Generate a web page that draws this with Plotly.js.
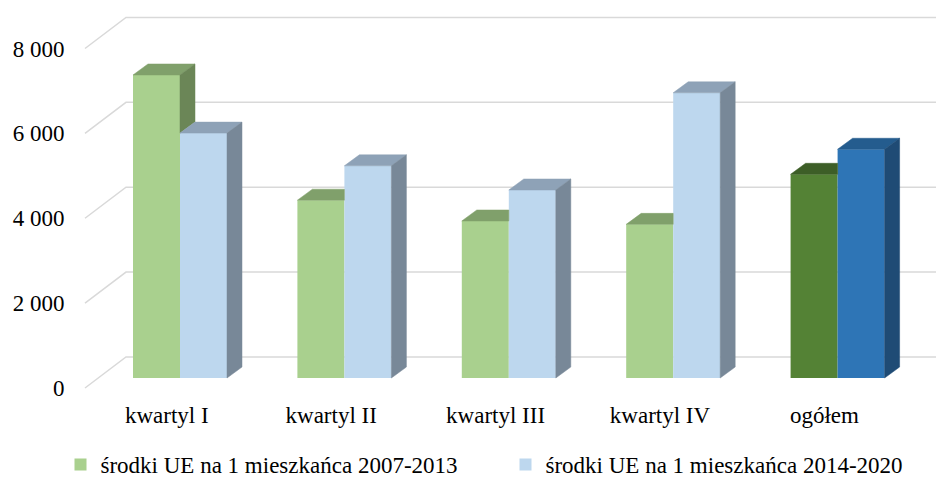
<!DOCTYPE html>
<html>
<head>
<meta charset="utf-8">
<script src="https://cdn.plot.ly/plotly-3.0.1.min.js"></script>
<style>
html,body{margin:0;padding:0;background:#fff;}
#chart{width:936px;height:480px;}
</style>
</head>
<body>
<div id="chart"></div>
<script>
// ---- data ----
const categories = ['kwartyl I', 'kwartyl II', 'kwartyl III', 'kwartyl IV', 'ogółem'];
const series2007 = [7140, 4190, 3700, 3620, 4800];
const series2014 = [5770, 5000, 4430, 6720, 5390];
const seriesNames = ['środki UE na 1 mieszkańca 2007-2013', 'środki UE na 1 mieszkańca 2014-2020'];
const yTickValues = [0, 2000, 4000, 6000, 8000];
const yTickLabels = ['0', '2 000', '4 000', '6 000', '8 000'];

// ---- geometry (pixels) ----
const plotL = 80, plotR = 936, plotT = 10, plotB = 392;
const catPx = 164.4, cat0Px = 180, yScale = 0.04244, zeroPx = 378;
const px2x = p => p / catPx;
const px2y = p => p / yScale;
const xRange = [px2x(plotL - cat0Px), px2x(plotR - cat0Px)];
const yRange = [px2y(zeroPx - plotB), px2y(zeroPx - plotT)];
const barW = px2x(47);
const dX = px2x(15), dY = px2y(11);          // bar depth
const frontY = px2y(-10), backY = px2y(21);  // wall offsets
const gridFrontX = px2x(85 - cat0Px), gridBackX = px2x(126 - cat0Px);

// ---- colours ----
const lastIdx = categories.length - 1;
const colG = {front: '#A9D08E', top: '#80A06B', side: '#6B8657'};
const colB = {front: '#BDD7EE', top: '#8EA2B7', side: '#788898'};
const colGT = {front: '#548235', top: '#3D5E27', side: '#35521F'};
const colBT = {front: '#2E75B6', top: '#245C8E', side: '#1F4B75'};
const pick = (i, normal, total) => (i === lastIdx ? total : normal);

const xIdx = categories.map((c, i) => i);

// ---- faces ----
const faces = []; // {pts, color}
categories.forEach((c, i) => {
  const vg = series2007[i], vb = series2014[i];
  const cg = pick(i, colG, colGT), cb = pick(i, colB, colBT);
  const gL = i - barW, gR = i, bL = i, bR = i + barW;
  if (vg >= vb) {
    faces.push({pts: [[gL, vg], [gL + dX, vg + dY], [gR + dX, vg + dY], [gR, vg]], color: cg.top});
    faces.push({pts: [[gR, vb], [gR + dX, vb + dY], [gR + dX, vg + dY], [gR, vg]], color: cg.side});
  } else {
    faces.push({pts: [[gL, vg], [gL + dX, vg + dY], [gR, vg + dY], [gR, vg]], color: cg.top});
  }
  faces.push({pts: [[bL, vb], [bL + dX, vb + dY], [bR + dX, vb + dY], [bR, vb]], color: cb.top});
  faces.push({pts: [[bR, 0], [bR + dX, dY], [bR + dX, vb + dY], [bR, vb]], color: cb.side});
});

const faceTraces = faces.map(f => ({
  type: 'scatter', mode: 'lines', fill: 'toself',
  x: f.pts.map(p => p[0]).concat([f.pts[0][0]]),
  y: f.pts.map(p => p[1]).concat([f.pts[0][1]]),
  fillcolor: f.color, line: {color: f.color, width: 0.5},
  hoverinfo: 'skip', showlegend: false
}));

const barG = {
  type: 'bar', name: seriesNames[0], x: xIdx, y: series2007,
  width: barW, offset: -barW,
  marker: {color: xIdx.map(i => pick(i, colG, colGT).front), line: {width: 0}},
  hoverinfo: 'skip'
};
const barB = {
  type: 'bar', name: seriesNames[1], x: xIdx, y: series2014,
  width: barW, offset: 0,
  marker: {color: xIdx.map(i => pick(i, colB, colBT).front), line: {width: 0}},
  hoverinfo: 'skip'
};

const shapes = yTickValues.map(v => ({
  type: 'path', xref: 'x', yref: 'y', layer: 'below',
  path: `M ${gridFrontX},${v + frontY} L ${gridBackX},${v + backY} L ${xRange[1]},${v + backY}`,
  line: {color: '#D9D9D9', width: 1.5}
}));

const font = {family: '"Liberation Serif", serif', size: 23, color: '#000'};

const layout = {
  width: 936, height: 480,
  margin: {l: plotL, r: 936 - plotR, t: plotT, b: 480 - plotB, pad: 0, autoexpand: false},
  paper_bgcolor: '#fff', plot_bgcolor: 'rgba(0,0,0,0)',
  font: font,
  showlegend: true,
  barmode: 'overlay',
  xaxis: {
    range: xRange, showgrid: false, zeroline: false, showline: false, automargin: false,
    tickmode: 'array', tickvals: xIdx.map(i => i + px2x(-13.2)), ticktext: categories,
    ticks: 'outside', ticklen: 2, tickcolor: 'rgba(0,0,0,0)', tickfont: font, fixedrange: true
  },
  yaxis: {
    range: yRange, showgrid: false, zeroline: false, showline: false, automargin: false,
    tickmode: 'array', tickvals: yTickValues.map(v => v + frontY), ticktext: yTickLabels,
    ticks: 'outside', ticklen: 10, tickcolor: 'rgba(0,0,0,0)', tickfont: font, fixedrange: true
  },
  legend: {
    orientation: 'h', x: (60.5 - plotL) / (plotR - plotL), xanchor: 'left',
    y: (plotB - 443) / (plotB - plotT), yanchor: 'top',
    font: font, entrywidth: 400, entrywidthmode: 'pixels',
    bgcolor: 'rgba(0,0,0,0)', traceorder: 'normal'
  },
  shapes: shapes
};

Plotly.newPlot('chart', [barG, barB].concat(faceTraces), layout, {displayModeBar: false, staticPlot: true});
</script>
</body>
</html>
